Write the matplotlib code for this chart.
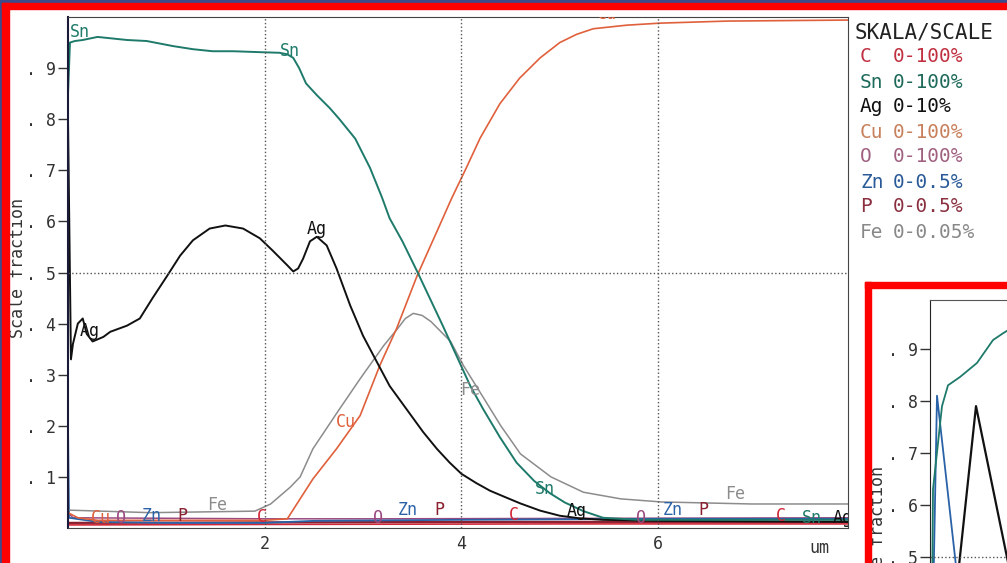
import numpy as np
import matplotlib.pyplot as plt
from matplotlib.patches import Rectangle

plt.rcParams['font.family'] = ['DejaVu Sans Mono', 'DejaVu Sans']

# --- depth profile data (x in um, y in scale fraction) ---
sn_x = [0.0, 0.02, 0.07, 0.15, 0.30, 0.60, 0.80, 1.07, 1.27, 1.47, 1.68, 1.98, 2.15, 2.23, 2.29, 2.35,
        2.42, 2.53, 2.66, 2.76, 2.92, 3.07, 3.19, 3.27, 3.40, 3.55, 3.68, 3.81, 3.95, 4.09, 4.22, 4.39,
        4.56, 4.74, 4.9, 5.05, 5.24, 5.44, 5.8, 6.5, 7.93]
sn_y = [0.85, 0.95, 0.953, 0.955, 0.961, 0.955, 0.953, 0.943, 0.937, 0.933, 0.933, 0.931, 0.93, 0.927,
        0.92, 0.90, 0.87, 0.847, 0.822, 0.80, 0.762, 0.705, 0.648, 0.606, 0.561, 0.502, 0.449, 0.396,
        0.337, 0.278, 0.233, 0.178, 0.128, 0.092, 0.068, 0.050, 0.033, 0.020, 0.016, 0.016, 0.016]

ag_x = [0.0, 0.03, 0.05, 0.10, 0.15, 0.19, 0.25, 0.36, 0.43, 0.60, 0.73, 0.86, 1.01, 1.14, 1.27, 1.44, 1.60,
        1.78, 1.95, 2.08, 2.23, 2.29, 2.34, 2.39, 2.46, 2.53, 2.63, 2.73, 2.87, 3.00, 3.14, 3.27, 3.44,
        3.61, 3.75, 3.88, 4.0, 4.15, 4.29, 4.45, 4.6, 4.8, 5.0, 5.2, 5.44, 6.0, 7.93]
ag_y = [0.80, 0.33, 0.36, 0.40, 0.41, 0.38, 0.365, 0.374, 0.384, 0.396, 0.41, 0.45, 0.494, 0.533, 0.563,
        0.586, 0.592, 0.586, 0.567, 0.543, 0.514, 0.502, 0.508, 0.527, 0.561, 0.57, 0.553, 0.508, 0.435,
        0.376, 0.325, 0.278, 0.233, 0.188, 0.155, 0.128, 0.106, 0.088, 0.073, 0.06, 0.048, 0.034, 0.024,
        0.019, 0.016, 0.014, 0.012]

cu_x = [0.0, 0.1, 0.3, 2.0, 2.15, 2.23, 2.36, 2.49, 2.73, 2.97, 3.17, 3.34, 3.55, 3.75, 3.90, 4.05, 4.19,
        4.39, 4.59, 4.80, 5.0, 5.17, 5.34, 5.68, 6.02, 6.7, 7.93]
cu_y = [0.03, 0.02, 0.015, 0.015, 0.017, 0.018, 0.057, 0.096, 0.155, 0.22, 0.318, 0.39, 0.494, 0.58,
        0.645, 0.705, 0.763, 0.83, 0.88, 0.92, 0.95, 0.966, 0.977, 0.984, 0.988, 0.992, 0.994]

fe_x = [0.0, 0.84, 1.90, 2.06, 2.26, 2.36, 2.49, 2.74, 2.97, 3.21, 3.35, 3.43, 3.51, 3.60, 3.69, 3.89,
        4.02, 4.23, 4.40, 4.60, 4.91, 5.24, 5.62, 6.03, 6.95, 7.93]
fe_y = [0.035, 0.03, 0.033, 0.047, 0.080, 0.10, 0.155, 0.227, 0.292, 0.357, 0.39, 0.41, 0.42, 0.416,
        0.404, 0.365, 0.318, 0.253, 0.20, 0.145, 0.10, 0.07, 0.057, 0.051, 0.047, 0.047]

zn_x = [0.0, 0.01, 0.3, 1.0, 2.0, 2.5, 4.0, 6.0, 7.93]
zn_y = [0.20, 0.02, 0.012, 0.010, 0.010, 0.014, 0.016, 0.018, 0.018]

o_x = [0.0, 0.05, 2.0, 3.2, 7.93]
o_y = [0.03, 0.02, 0.018, 0.018, 0.02]

p_x = [0.0, 2.0, 4.5, 7.93]
p_y = [0.010, 0.011, 0.012, 0.012]

c_x = [0.0, 2.0, 5.0, 7.93]
c_y = [0.006, 0.007, 0.008, 0.008]

# element labels written along the curves
labels = [
    (0.02, 0.97, 'Sn', 'sn', 'left'), (2.26, 0.933, 'Sn', 'sn', 'center'), (4.85, 0.076, 'Sn', 'sn', 'center'),
    (7.56, 0.02, 'Sn', 'sn', 'center'),
    (0.22, 0.386, 'Ag', 'ag', 'center'), (2.53, 0.585, 'Ag', 'ag', 'center'), (5.17, 0.033, 'Ag', 'ag', 'center'),
    (7.77, 0.02, 'Ag', 'ag', 'left'),
    (5.48, 1.005, 'Cu', 'cu', 'center'), (2.83, 0.207, 'Cu', 'cu', 'center'), (0.33, 0.02, 'Cu', 'cu', 'center'),
    (0.54, 0.02, 'O', 'o', 'center'), (3.15, 0.02, 'O', 'o', 'center'), (5.83, 0.02, 'O', 'o', 'center'),
    (0.85, 0.023, 'Zn', 'zn', 'center'), (3.45, 0.035, 'Zn', 'zn', 'center'), (6.15, 0.035, 'Zn', 'zn', 'center'),
    (1.16, 0.023, 'P', 'p', 'center'), (3.78, 0.035, 'P', 'p', 'center'), (6.46, 0.035, 'P', 'p', 'center'),
    (1.52, 0.045, 'Fe', 'fe', 'center'), (4.09, 0.27, 'Fe', 'fe', 'center'), (6.78, 0.067, 'Fe', 'fe', 'center'),
    (1.97, 0.022, 'C', 'c', 'center'), (4.53, 0.025, 'C', 'c', 'center'), (7.25, 0.023, 'C', 'c', 'center'),
]

scale_elems = ['C', 'Sn', 'Ag', 'Cu', 'O', 'Zn', 'P', 'Fe']
scale_ranges = ['0-100%', '0-100%', '0-10%', '0-100%', '0-100%', '0-0.5%', '0-0.5%', '0-0.05%']

# inset (zoom of the surface region)
ins_sn_x = [0.1, 0.15, 0.6, 0.9, 1.5, 2.35, 3.15, 3.65, 4.5]
ins_sn_y = [0.4, 0.63, 0.79, 0.83, 0.846, 0.873, 0.917, 0.93, 0.95]
ins_zn_x = [0.15, 0.35, 1.54]
ins_zn_y = [0.4, 0.81, 0.4]
ins_ag_x = [1.22, 2.3, 4.38]
ins_ag_y = [0.4, 0.79, 0.4]

colors = {'sn': '#1e7a6a', 'ag': '#111111', 'cu': '#e0603c', 'fe': '#8c8c8c',
          'zn': '#2a62a8', 'o': '#9a4a80', 'p': '#8a2030', 'c': '#d02838'}
legend_colors = ['#c03040', '#1e6a5a', '#111111', '#c8805c', '#a06080', '#2a5a98', '#8a3040', '#888888']

W, H = 1007, 563
fig = plt.figure(figsize=(W / 100, H / 100), dpi=100)
fig.patch.set_facecolor('white')

ax = fig.add_axes([68 / W, (H - 528) / H, 780 / W, 511 / H])
ax.plot(c_x, c_y, color=colors['c'], lw=1.2)
ax.plot(p_x, p_y, color=colors['p'], lw=1.6)
ax.plot(o_x, o_y, color=colors['o'], lw=1.1)
ax.plot(zn_x, zn_y, color=colors['zn'], lw=1.3)
ax.plot(fe_x, fe_y, color=colors['fe'], lw=1.1)
ax.plot(cu_x, cu_y, color=colors['cu'], lw=1.2)
ax.plot(ag_x, ag_y, color=colors['ag'], lw=1.4)
ax.plot(sn_x, sn_y, color=colors['sn'], lw=1.4)

for x, y, t, key, ha in labels:
    ax.text(x, y, t, color=colors[key], fontsize=12, ha=ha, va='center', clip_on=True)

ax.set_xlim(0, 7.93)
ax.set_ylim(0, 1.0)
ax.set_xticks([2, 4, 6])
ax.set_xticklabels(['2', '4', '6'], fontsize=12, color='#333333')
ax.tick_params(axis='x', length=0, pad=5)
yt = [0.1, 0.2, 0.3, 0.4, 0.5, 0.6, 0.7, 0.8, 0.9]
ax.set_yticks(yt)
ax.set_yticklabels(['. %d' % round(v * 10) for v in yt], fontsize=12, color='#333333')
ax.tick_params(axis='y', length=7, width=1, color='#333333', pad=2)
for v in [2, 4, 6]:
    ax.axvline(v, color='#555555', ls=':', lw=1)
ax.axhline(0.5, color='#555555', ls=':', lw=1)
for s in ax.spines.values():
    s.set_color('#444444')
ax.spines['left'].set_color('#1a1a3a')
ax.spines['left'].set_linewidth(1.5)
ax.text(7.64, -0.022, 'um', ha='center', va='top', fontsize=12, color='#333333')
fig.text(18 / W, (H - 268) / H, 'Scale fraction', rotation=90, ha='center', va='center',
         fontsize=12, color='#333333')

# scale legend on the right
fig.text(855 / W, (H - 32) / H, 'SKALA/SCALE', fontsize=15, color='#222222', va='center')
for i, (el, rng) in enumerate(zip(scale_elems, scale_ranges)):
    yy = (H - (57 + i * 25)) / H
    fig.text(860 / W, yy, el, fontsize=14, color=legend_colors[i], va='center')
    fig.text(893 / W, yy, rng, fontsize=14, color=legend_colors[i], va='center')

# frame decorations
fig.patches.append(Rectangle((0, (H - 3) / H), 1, 3 / H, transform=fig.transFigure,
                             color='#3b4b8c', zorder=10))
fig.patches.append(Rectangle((0, 0), 2 / W, 1, transform=fig.transFigure, color='#3b4b8c', zorder=10))
fig.patches.append(Rectangle((2 / W, (H - 9) / H), 1, 6 / H, transform=fig.transFigure,
                             color='#ff0000', zorder=10))
fig.patches.append(Rectangle((2 / W, 0), 7 / W, (H - 3) / H, transform=fig.transFigure,
                             color='#ff0000', zorder=10))
fig.patches.append(Rectangle((865 / W, 0), 6 / W, (H - 282) / H, transform=fig.transFigure,
                             color='#ff0000', zorder=10))
fig.patches.append(Rectangle((865 / W, (H - 288) / H), 1, 6 / H, transform=fig.transFigure,
                             color='#ff0000', zorder=10))

# inset
ax2 = fig.add_axes([930 / W, (H - 609) / H, 200 / W, 309 / H])
ax2.plot(ins_zn_x, ins_zn_y, color=colors['zn'], lw=1.3)
ax2.plot(ins_sn_x, ins_sn_y, color=colors['sn'], lw=1.3)
ax2.plot(ins_ag_x, ins_ag_y, color=colors['ag'], lw=1.6)
ax2.set_xlim(0, 10)
ax2.set_ylim(0.4, 0.994)
ax2.set_xticks([])
it = [0.5, 0.6, 0.7, 0.8, 0.9]
ax2.set_yticks(it)
ax2.set_yticklabels(['. %d' % round(v * 10) for v in it], fontsize=12, color='#333333')
ax2.tick_params(axis='y', length=7, width=1, color='#333333', pad=2)
ax2.axhline(0.5, color='#555555', ls=':', lw=1)
for s in ax2.spines.values():
    s.set_color('#555555')
ax2.spines['left'].set_color('#222222')
fig.text(878 / W, (H - 466) / H, 'Scale fraction', rotation=90, ha='center', va='top',
         fontsize=12, color='#333333')

fig.savefig('out.png', dpi=100)
